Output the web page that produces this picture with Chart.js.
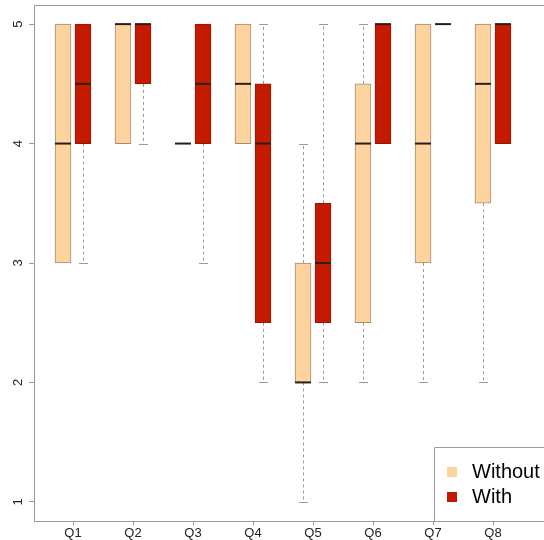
<!DOCTYPE html>
<html>
<head>
<meta charset="utf-8">
<script src="https://cdn.jsdelivr.net/npm/chart.js@4"></script>
<style>
  body { margin: 0; background: #fff; }
  #wrap { width: 544px; height: 540px; }
</style>
</head>
<body>
<div id="wrap"><canvas id="boxChart" width="544" height="540"></canvas></div>
<script>
const questions = ["Q1", "Q2", "Q3", "Q4", "Q5", "Q6", "Q7", "Q8"];
const yTicks = [1, 2, 3, 4, 5];

// five-number summaries
const withoutMin = [3, 4, 4, 4, 1, 2, 2, 2];
const withoutQ1 = [3, 4, 4, 4, 2, 2.5, 3, 3.5];
const withoutMed = [4, 5, 4, 4.5, 2, 4, 4, 4.5];
const withoutQ3 = [5, 5, 4, 5, 3, 4.5, 5, 5];
const withoutMax = [5, 5, 4, 5, 4, 5, 5, 5];

const withMin = [3, 4, 3, 2, 2, 4, 5, 4];
const withQ1 = [4, 4.5, 4, 2.5, 2.5, 4, 5, 4];
const withMed = [4.5, 5, 4.5, 4, 3, 5, 5, 5];
const withQ3 = [5, 5, 5, 4.5, 3.5, 5, 5, 5];
const withMax = [5, 5, 5, 5, 5, 5, 5, 5];

const groups = [
  { label: "Without", offset: -1 / 6, fill: "#FDD49E", border: "#9E8C78",
    min: withoutMin, q1: withoutQ1, med: withoutMed, q3: withoutQ3, max: withoutMax },
  { label: "With", offset: 1 / 6, fill: "#C41B00", border: "#8E1A08",
    min: withMin, q1: withQ1, med: withMed, q3: withQ3, max: withMax },
];

const BOX_W = 16;

// whiskers, medians, top frame line and the inset legend
const boxExtras = {
  id: "boxExtras",
  beforeDatasetsDraw(chart) {
    const { ctx, scales: { x, y } } = chart;
    ctx.save();
    groups.forEach(g => {
      questions.forEach((q, i) => {
        const cx = Math.round(x.getPixelForValue(i + g.offset)) + 0.5;
        const segs = [[g.q3[i], g.max[i]], [g.q1[i], g.min[i]]];
        segs.forEach(([from, to]) => {
          if (from === to) return;
          const y0 = y.getPixelForValue(from);
          const y1 = Math.round(y.getPixelForValue(to)) + 0.5;
          ctx.strokeStyle = "#9a9a9a";
          ctx.lineWidth = 1;
          ctx.setLineDash([3, 3]);
          ctx.beginPath();
          ctx.moveTo(cx, y0);
          ctx.lineTo(cx, y1);
          ctx.stroke();
          ctx.setLineDash([]);
          ctx.beginPath();
          ctx.moveTo(cx - 4.5, y1);
          ctx.lineTo(cx + 4.5, y1);
          ctx.stroke();
        });
      });
    });
    ctx.restore();
  },
  afterDatasetsDraw(chart) {
    const { ctx, chartArea, scales: { x, y } } = chart;
    ctx.save();
    groups.forEach(g => {
      questions.forEach((q, i) => {
        const cx = x.getPixelForValue(i + g.offset);
        const my = y.getPixelForValue(g.med[i]);
        ctx.strokeStyle = "#2a1e18";
        ctx.lineWidth = 2;
        ctx.beginPath();
        ctx.moveTo(cx - BOX_W / 2, my);
        ctx.lineTo(cx + BOX_W / 2, my);
        ctx.stroke();
      });
    });

    // top frame line
    ctx.strokeStyle = "#9a9a9a";
    ctx.lineWidth = 1;
    ctx.beginPath();
    ctx.moveTo(chartArea.left, chartArea.top + 0.5);
    ctx.lineTo(chartArea.right, chartArea.top + 0.5);
    ctx.stroke();

    // legend box
    const lx = 434.5, ly = 447.5;
    ctx.beginPath();
    ctx.moveTo(lx, chartArea.bottom);
    ctx.lineTo(lx, ly);
    ctx.lineTo(chartArea.right, ly);
    ctx.stroke();
    ctx.font = "20px 'Liberation Sans', Arial, sans-serif";
    ctx.textBaseline = "middle";
    ctx.textAlign = "left";
    groups.forEach((g, k) => {
      const rowY = 472 + k * 25;
      ctx.fillStyle = g.fill;
      ctx.fillRect(447, rowY - 5, 10, 10);
      ctx.fillStyle = "#000";
      ctx.fillText(g.label, 472, rowY);
    });
    ctx.restore();
  }
};

const ctx = document.getElementById("boxChart").getContext("2d");

const chart = new Chart(ctx, {
  type: "bar",
  data: {
    datasets: groups.map(g => ({
      label: g.label,
      data: questions.map((q, i) => ({ x: i + g.offset, y: [g.q1[i], g.q3[i]] })),
      backgroundColor: g.fill,
      borderColor: g.border,
      borderWidth: 1,
      borderSkipped: false,
      barThickness: BOX_W,
      grouped: false,
    })),
  },
  options: {
    responsive: false,
    animation: false,
    layout: { padding: { top: 5, left: 0, right: 0, bottom: 0 } },
    plugins: {
      legend: { display: false },
      tooltip: { enabled: false },
    },
    scales: {
      x: {
        type: "linear",
        offset: false,
        min: -0.65,
        max: 7.85,
        afterBuildTicks: scale => {
          scale.ticks = questions.map((q, i) => ({ value: i }));
        },
        afterFit: scale => {
          scale.height = 19;
          scale.paddingLeft = 0;
          scale.paddingRight = 0;
        },
        grid: { offset: false, drawOnChartArea: false, tickLength: 4, color: "#9a9a9a" },
        border: { color: "#9a9a9a" },
        ticks: {
          callback: v => questions[v],
          color: "#222",
          padding: 1,
          maxRotation: 0,
          font: { family: "'Liberation Sans', Arial, sans-serif", size: 13 },
        },
      },
      y: {
        min: 0.84,
        max: 5.16,
        afterBuildTicks: scale => {
          scale.ticks = yTicks.map(v => ({ value: v }));
        },
        afterFit: scale => {
          scale.width = 34;
          scale.paddingTop = 0;
          scale.paddingBottom = 0;
        },
        grid: { drawOnChartArea: false, tickLength: 5, color: "#9a9a9a" },
        border: { color: "#9a9a9a" },
        ticks: {
          minRotation: 90,
          maxRotation: 90,
          crossAlign: "center",
          color: "#222",
          padding: 7,
          font: { family: "'Liberation Sans', Arial, sans-serif", size: 13 },
        },
      },
    },
  },
  plugins: [boxExtras],
});
</script>
</body>
</html>
